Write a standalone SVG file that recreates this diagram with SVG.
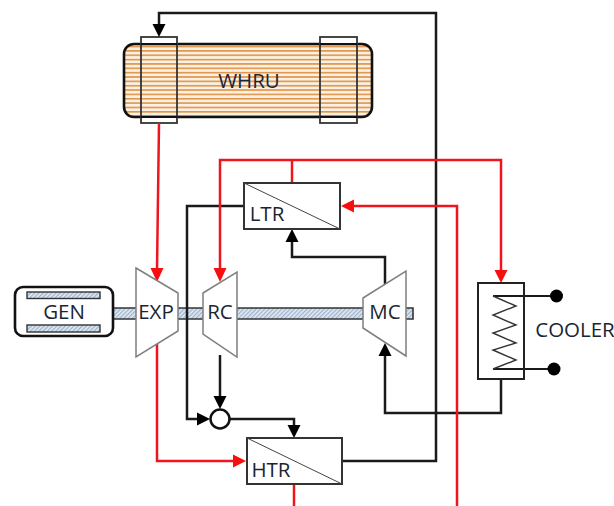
<svg xmlns="http://www.w3.org/2000/svg" width="614" height="506" viewBox="0 0 614 506">
<style>
.k{fill:none;stroke:#1a1a1a;stroke-width:2.5}
.r{fill:none;stroke:#f0141e;stroke-width:2.5}
.ah{fill:#000}.ar{fill:#f70f0f}
.box{fill:#fff;stroke:#333;stroke-width:2}
.tb{fill:#fff;stroke:#7f7f7f;stroke-width:1.5}
.sh{fill:url(#hatch)}
.sl{fill:none;stroke:#333;stroke-width:1.6}
.t{font-family:"Open Sans",sans-serif;font-size:20.500px;fill:#1b2433;text-anchor:middle}
</style>
<defs>
<pattern id="hatch" width="3" height="3" patternUnits="userSpaceOnUse" patternTransform="rotate(45)">
<rect width="3" height="3" fill="#e6edf5"/><rect width="1.4" height="3" fill="#9db4cf"/>
</pattern>
<pattern id="stripes" width="8" height="4.35" patternUnits="userSpaceOnUse" y="44">
<rect width="8" height="4.35" fill="#fbf0e2"/><rect y="1.8" width="8" height="1.5" fill="#dd8f40"/>
</pattern>
</defs>
<g id="WHRU">
<rect x="124" y="44" width="248" height="73" rx="10" fill="url(#stripes)" stroke="#111" stroke-width="2.600"/>
<path d="M141 37h36v7h-36zM141 117h36v6h-36zM320 37h37v7h-37zM320 117h37v6h-37z" fill="#fff" stroke="none"/>
<rect x="141" y="37" width="36" height="86" fill="none" stroke="#333" stroke-width="1.800"/>
<rect x="320" y="37" width="37" height="86" fill="none" stroke="#333" stroke-width="1.800"/>
<path d="M141 44H177M141 117H177M320 44H357M320 117H357" stroke="#111" stroke-width="2.200" fill="none"/>
<text class="t" x="249" y="88">WHRU</text>
</g>
<g id="shaft">
<rect class="sh" x="114" y="308" width="22" height="11"/>
<rect class="sh" x="178" y="308" width="25" height="11"/>
<rect class="sh" x="237" y="308" width="126" height="11"/>
<rect class="sh" x="406" y="308" width="7" height="11"/>
<path class="sl" d="M114 308H136M114 319H136M178 308H203M178 319H203M237 308H363M237 319H363M406 308H413V319H406"/>
</g>
<g id="connectors">
<path class="k" d="M342 461H436V13H159V26"/>
<path class="k" d="M244 206H187V419H199"/>
<path class="k" d="M220 355V398"/>
<path class="k" d="M230 419H294V427"/>
<path class="k" d="M292 240V257H385V284"/>
<path class="k" d="M385 354V413H501V379"/>
<path class="k" d="M493 296H556M493 369H554" style="stroke-width:2"/>
<path class="r" d="M159 123L157 270"/>
<path class="r" d="M157 343V461H235"/>
<path class="r" d="M292 183V160"/>
<path class="r" d="M220 270V160H501V271"/>
<path class="r" d="M294 484V506"/>
<path class="r" d="M457 506V206H352"/>
<polygon class="ah" points="159,37 152.500,24 165.500,24"/>
<polygon class="ah" points="210,419 197,412.500 197,425.500"/>
<polygon class="ah" points="220,409 213.500,396 226.500,396"/>
<polygon class="ah" points="294,438 287.500,425 300.500,425"/>
<polygon class="ah" points="292,229 285.500,242 298.500,242"/>
<polygon class="ah" points="385,343 378.500,356 391.500,356"/>
<polygon class="ar" points="157,282 150.500,268 163.500,268"/>
<polygon class="ar" points="220,282 213.500,268 226.500,268"/>
<polygon class="ar" points="501,283 494.500,270 507.500,270"/>
<polygon class="ar" points="246,461 233,454.500 233,467.500"/>
<polygon class="ar" points="341,206 354,199.500 354,212.500"/>
<circle cx="556.500" cy="296" r="6.500" fill="#000"/>
<circle cx="554" cy="369" r="6.500" fill="#000"/>
</g>
<g id="GEN">
<rect x="15" y="287" width="98" height="49" rx="8" fill="#fff" stroke="#111" stroke-width="2.600"/>
<rect class="sh" x="27" y="292" width="73" height="6.500" stroke="#333" stroke-width="1.400"/>
<rect class="sh" x="27" y="325" width="73" height="7" stroke="#333" stroke-width="1.400"/>
<text class="t" x="64" y="319">GEN</text>
</g>
<g id="EXP">
<polygon class="tb" points="136,268 178,293 178,331 136,357"/>
<text class="t" x="156" y="319">EXP</text>
</g>
<g id="RC">
<polygon class="tb" points="203,293 237,272 237,357 203,334"/>
<text class="t" x="220" y="319">RC</text>
</g>
<g id="MC">
<polygon class="tb" points="363,298 406,271 406,356 363,328"/>
<text class="t" x="385" y="319">MC</text>
</g>
<g id="LTR">
<rect class="box" x="244" y="183" width="96" height="46"/>
<path d="M244 183L340 229" stroke="#444" stroke-width="1" fill="none"/>
<text class="t" x="267" y="221">LTR</text>
</g>
<g id="HTR">
<rect class="box" x="247" y="438" width="95" height="46"/>
<path d="M247 438L342 484" stroke="#444" stroke-width="1" fill="none"/>
<text class="t" x="271" y="477">HTR</text>
</g>
<g id="mixer">
<circle cx="220" cy="419" r="9.500" fill="#fff" stroke="#111" stroke-width="2.500"/>
</g>
<g id="COOLER">
<rect x="478" y="283" width="46" height="96" fill="none" stroke="#222" stroke-width="2"/>
<polyline points="493,296 516,306 493,315 516,325 493,333 516,343 493,350 516,360 493,369" fill="none" stroke="#333" stroke-width="1.400"/>
<text class="t" x="575" y="337">COOLER</text>
</g>
</svg>
